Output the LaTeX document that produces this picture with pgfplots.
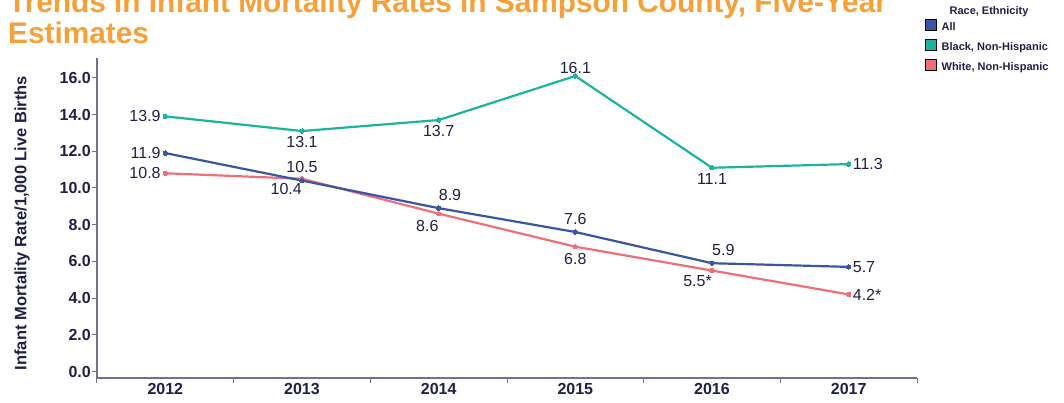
\documentclass[border=0pt]{standalone}
\usepackage{pgfplots}
\usepackage{pgfplotstable}
\pgfplotsset{compat=1.18}
\usepackage{fontspec}
\setmainfont{Liberation Sans}
\definecolor{cAll}{HTML}{3A55A5}
\definecolor{cBlack}{HTML}{1BB3A1}
\definecolor{cWhite}{HTML}{F06E78}
\definecolor{cText}{HTML}{1F1F47}
\definecolor{cAxis}{HTML}{707090}
\definecolor{cTitle}{HTML}{F7A038}

\pgfplotstableread{
x y
0 11.9
1 10.4
2 8.9
3 7.6
4 5.9
5 5.7
}\allData
\pgfplotstableread{
x y
0 13.9
1 13.1
2 13.7
3 16.1
4 11.1
5 11.3
}\blackData
\pgfplotstableread{
x y
0 10.8
1 10.5
2 8.6
3 6.8
4 5.5
5 4.2
}\whiteData

\pgfplotsset{lbl/.style n args={3}{forget plot, draw=none, mark=none, nodes near coords, point meta=explicit symbolic,
   every node near coord/.append style={anchor=#1, inner xsep=#2, inner ysep=#3}}}

\begin{document}
\begin{tikzpicture}
\begin{axis}[
  at={(0pt,0pt)}, anchor=south west,
  scale only axis, width=820pt, height=320pt,
  xmin=-0.5, xmax=5.5, ymin=-0.354, ymax=17.08,
  clip=false,
  axis x line=bottom, axis y line=left,
  axis line style={-, draw=cAxis, line width=1.2pt},
  /pgf/number format/assume math mode=true,
  xtick={-0.5,0.5,...,5.5},
  xticklabels={},
  extra x ticks={0,1,2,3,4,5},
  extra x tick labels={2012,2013,2014,2015,2016,2017},
  extra x tick style={major tick length=0pt, tick style={draw=none}},
  ytick={0,2,...,16},
  major tick length=5pt,
  tick align=outside,
  tick style={draw=cAxis, line width=1pt},
  yticklabel style={/pgf/number format/.cd, fixed, fixed zerofill, precision=1, /tikz/.cd,
     font=\bfseries\fontsize{16}{16}\selectfont, text=cText, inner xsep=1pt},
  xticklabel style={font=\bfseries\fontsize{16}{16}\selectfont, text=cText, inner ysep=5pt},
  legend style={at={(1.0098,1.122)}, anchor=north west, draw=none, fill=none,
     font=\bfseries\fontsize{11}{11}\selectfont, text=cText, row sep=6.5pt, column sep=5pt,
     inner sep=0pt, nodes={inner sep=0pt, text height=8pt, text depth=2.5pt}},
  legend cell align=left,
  legend image code/.code={\fill[#1] (0pt,-3pt) rectangle (11pt,8pt);},
  every node near coord/.append style={font=\fontsize{16}{16}\selectfont, text=cText},
]
\addlegendimage{fill=cAll}\addlegendentry{All}
\addlegendimage{fill=cBlack}\addlegendentry{Black, Non-Hispanic}
\addlegendimage{fill=cWhite}\addlegendentry{White, Non-Hispanic}

\addplot[forget plot, draw=cWhite, line width=2.2pt, mark=*, mark size=2.2pt, mark options={fill=cWhite, draw=cWhite, line width=0pt}]
  table[x=x, y=y] {\whiteData};
\addplot[forget plot, draw=cBlack, line width=2.2pt, mark=*, mark size=2.2pt, mark options={fill=cBlack, draw=cBlack, line width=0pt}]
  table[x=x, y=y] {\blackData};
\addplot[forget plot, draw=cAll, line width=2.2pt, mark=*, mark size=2.2pt, mark options={fill=cAll, draw=cAll, line width=0pt}]
  table[x=x, y=y] {\allData};

% labels: All
\addplot[lbl={east}{4.5pt}{0pt}] coordinates {(0,11.9) [11.9]};
\addplot[lbl={north east}{0pt}{2.5pt}] coordinates {(1,10.4) [10.4]};
\addplot[lbl={south west}{0pt}{7pt}] coordinates {(2,8.9) [8.9] (4,5.9) [5.9]};
\addplot[lbl={south}{0pt}{7pt}] coordinates {(3,7.6) [7.6]};
\addplot[lbl={west}{4pt}{0pt}] coordinates {(5,5.7) [5.7]};
% labels: Black
\addplot[lbl={east}{4.5pt}{0pt}] coordinates {(0,13.9) [13.9]};
\addplot[lbl={north}{0pt}{5.5pt}] coordinates {(1,13.1) [13.1] (2,13.7) [13.7] (4,11.1) [11.1]};
\addplot[lbl={south}{0pt}{2pt}] coordinates {(3,16.1) [16.1]};
\addplot[lbl={west}{4pt}{0pt}] coordinates {(5,11.3) [11.3]};
% labels: White
\addplot[lbl={east}{4.5pt}{0pt}] coordinates {(0,10.8) [10.8]};
\addplot[lbl={south}{0pt}{6pt}] coordinates {(1,10.5) [10.5]};
\addplot[lbl={north east}{0pt}{6pt}] coordinates {(2,8.6) [8.6]};
\addplot[lbl={north east}{0pt}{5pt}] coordinates {(4,5.5) [5.5*]};
\addplot[lbl={north}{0pt}{6pt}] coordinates {(3,6.8) [6.8]};
\addplot[lbl={west}{4pt}{0pt}] coordinates {(5,4.2) [4.2*]};
\end{axis}
\node[anchor=base west, inner sep=0pt, font=\bfseries\fontsize{29.8}{29.8}\selectfont, text=cTitle] at (-89pt,365pt) {Trends in Infant Mortality Rates in Sampson County, Five-Year};
\node[anchor=base west, inner sep=0pt, font=\bfseries\fontsize{29.8}{29.8}\selectfont, text=cTitle] at (-89pt,334pt) {Estimates};
\node[rotate=90, inner sep=0pt, font=\bfseries\fontsize{16.5}{16.5}\selectfont, text=cText] at (-75pt,155pt) {Infant Mortality Rate/1,000 Live Births};
\node[inner sep=0pt, font=\bfseries\fontsize{11}{11}\selectfont, text=cText] at (892pt,366pt) {Race, Ethnicity};
\pgfresetboundingbox
\useasboundingbox (-97pt,-24pt) rectangle (967pt,378pt);
\end{tikzpicture}
\end{document}
